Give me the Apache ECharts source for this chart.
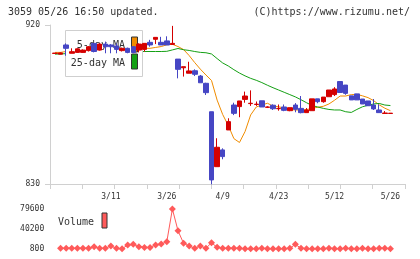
<!DOCTYPE html>
<html><head><meta charset="utf-8">
<script src="https://cdn.jsdelivr.net/npm/echarts/dist/echarts.min.js"></script>
<style>html,body{margin:0;padding:0;background:#fff}#c{width:420px;height:259px}</style>
</head><body><div id="c"></div>
<script>
const dates = ['2/25','2/26','2/27','2/28','3/3','3/4','3/5','3/6','3/7','3/10',
  '3/11','3/12','3/13','3/14','3/17','3/18','3/19','3/21','3/24','3/25',
  '3/26','3/27','3/28','3/31','4/1','4/2','4/3','4/4','4/7','4/8',
  '4/9','4/10','4/11','4/14','4/15','4/16','4/17','4/18','4/21','4/22',
  '4/23','4/24','4/25','4/28','4/30','5/1','5/2','5/7','5/8','5/9',
  '5/12','5/13','5/14','5/15','5/16','5/19','5/20','5/21','5/22','5/23','5/26'];
const tickLabels = ['3/11','3/26','4/9','4/23','5/12','5/26'];
const opens  = [903.9,903.5,908.7,904.0,904.5,904.5,905.5,909.6,905.8,909.2,
  908.7,908.1,905.5,906.8,907.7,905.8,906.2,910.2,911.9,910.2,
  911.0,909.0,900.7,895.8,892.7,894.1,891.1,887.0,870.9,839.8,
  849.3,860.6,874.7,873.8,877.9,875.5,875.0,877.1,873.4,874.6,
  872.6,873.6,871.5,874.7,872.8,870.4,871.5,878.2,876.6,879.4,
  880.6,888.0,886.0,879.9,881.0,878.1,877.0,874.7,871.9,869.9,869.9];
const closes = [904.1,904.2,906.8,904.9,906.5,905.8,907.7,905.0,909.2,907.7,
  907.7,906.2,906.8,904.5,904.5,909.2,909.6,908.7,913.0,908.7,
  908.7,909.6,894.9,896.4,894.0,892.1,887.3,881.7,832.3,850.8,
  845.5,865.3,870.0,877.0,879.8,875.7,875.2,873.6,873.6,872.6,
  872.8,871.7,873.2,872.3,870.4,871.9,878.2,876.6,879.2,883.2,
  883.8,881.8,881.3,877.6,877.6,875.3,874.3,872.5,870.4,870.2,870.1];
const lows   = [903.9,903.4,902.6,904.0,904.3,904.3,905.0,904.5,905.5,904.0,
  904.0,904.0,905.0,904.0,904.0,904.5,904.9,907.7,909.2,908.7,
  908.7,909.0,889.8,890.8,892.7,891.1,887.3,880.4,829.8,839.8,
  844.0,860.6,869.0,867.8,876.0,874.2,874.2,873.6,873.0,871.9,
  871.5,871.2,871.2,870.6,870.0,870.4,871.5,875.7,876.0,879.4,
  879.8,881.8,880.5,877.6,877.6,875.3,874.3,871.9,870.4,869.9,869.9];
const highs  = [904.1,904.5,909.6,906.8,906.8,906.2,908.1,909.6,909.6,910.6,
  909.2,909.6,907.2,907.2,908.1,909.6,909.6,911.6,913.0,913.3,
  913.6,919.5,900.7,896.4,899.2,894.9,891.7,887.3,870.9,855.9,
  850.2,867.2,876.0,877.0,882.3,883.0,876.7,877.1,874.0,875.1,
  875.0,875.0,873.2,875.8,879.8,873.0,878.2,878.2,879.2,883.2,
  884.8,888.0,886.0,879.9,881.0,878.1,877.0,878.1,875.1,871.3,870.1];
const ma5  = [904.5,904.5,905.0,905.0,905.2,905.6,906.0,906.3,906.8,907.3,
  907.8,907.8,907.5,907.0,906.3,906.5,906.8,906.8,907.3,907.8,
  908.8,909.1,907.8,906.1,902.7,898.7,895.0,891.7,888.6,877.5,
  869.3,863.1,855.7,853.5,859.7,869.1,873.6,874.7,875.7,874.1,
  873.7,873.0,872.2,871.9,871.9,872.1,872.9,873.4,874.0,875.3,
  877.4,879.8,879.8,880.6,880.7,879.9,878.9,877.2,874.8,872.9,871.5];
const ma25 = [903.5,903.6,903.8,904.0,904.1,904.2,904.3,904.4,904.5,904.6,
  904.7,904.8,904.9,905.0,905.0,905.0,905.0,905.0,905.0,905.0,
  905.1,905.9,906.7,906.0,905.6,905.0,904.5,904.3,903.6,901.0,
  898.5,896.8,894.7,892.8,891.2,889.8,888.7,887.4,885.9,884.5,
  883.2,881.9,880.6,879.3,877.7,876.0,874.4,873.6,872.8,872.2,
  871.9,871.9,870.9,870.5,872.2,873.7,874.6,875.3,875.6,874.7,874.4];
const volume = [null,2200,2200,2200,2200,2200,2200,5300,2200,2200,
  6700,2200,1200,8700,10000,5300,4000,4000,8700,10600,
  15200,79600,36900,12000,6700,2200,6700,2200,13200,4100,
  2200,2200,2200,2200,1200,1200,1200,2200,1200,1200,
  1200,1200,2200,10000,2200,1200,1200,1500,1500,2200,
  1500,1500,2200,1500,1500,2200,1500,1500,2200,2200,1500];
const priceTicks = [830, 920];
const volumeTicks = [800, 40200, 79600];

const RED = '#d40000', BLUE = '#4646c4', ORANGE = '#f08c00', GREEN = '#14a014', VOLC = '#ff5a5a';
const AX = '#d0d0d0', TXT = '#333', FONT = '"DejaVu Sans Mono", monospace';
const cats = dates.concat(['', '']);
const plotTop = 25, plotH = 159, cLeft = 52.2, cW = 352.2;

const chart = echarts.init(document.getElementById('c'), null, {renderer: 'canvas'});
chart.setOption({
  animation: false,
  backgroundColor: '#fff',
  grid: [
    {left: 50, top: plotTop, width: 355, height: plotH},
    {left: cLeft, top: plotTop, width: cW, height: plotH},
    {left: cLeft, top: 209, width: cW, height: 40}
  ],
  xAxis: [
    {gridIndex: 0, type: 'value', min: 0, max: 11, interval: 1,
      axisLine: {show: true, lineStyle: {color: AX, width: 1}},
      axisTick: {show: true, length: 5, lineStyle: {color: AX}},
      axisLabel: {show: false}, splitLine: {show: false}},
    {gridIndex: 1, type: 'category', data: cats, boundaryGap: true,
      axisLine: {show: false}, axisTick: {show: false}, splitLine: {show: false},
      axisLabel: {show: true, interval: (i, v) => tickLabels.includes(v), margin: 9,
        fontSize: 8, fontFamily: FONT, color: TXT}},
    {gridIndex: 2, type: 'category', data: cats, boundaryGap: true,
      axisLine: {show: false}, axisTick: {show: false}, axisLabel: {show: false}, splitLine: {show: false}}
  ],
  yAxis: [
    {gridIndex: 0, type: 'value', min: priceTicks[0], max: priceTicks[1], interval: priceTicks[1] - priceTicks[0],
      axisLine: {show: true, lineStyle: {color: AX, width: 1}},
      axisTick: {show: true, length: 5, lineStyle: {color: AX}},
      axisLabel: {fontSize: 8, fontFamily: FONT, color: TXT, margin: 10, formatter: v => String(v)},
      splitLine: {show: false}},
    {gridIndex: 1, type: 'value', min: priceTicks[0], max: priceTicks[1], show: false, splitLine: {show: false}},
    {gridIndex: 2, type: 'value', min: volumeTicks[0], max: volumeTicks[2], interval: volumeTicks[1] - volumeTicks[0],
      axisLine: {show: false}, axisTick: {show: false}, splitLine: {show: false},
      axisLabel: {fontSize: 8, fontFamily: FONT, color: TXT, margin: 8, formatter: v => String(v)}}
  ],
  series: [
    {name: '5-day MA', type: 'line', xAxisIndex: 1, yAxisIndex: 1, data: ma5, symbol: 'none', z: 1,
      lineStyle: {color: ORANGE, width: 1}},
    {name: '25-day MA', type: 'line', xAxisIndex: 1, yAxisIndex: 1, data: ma25, symbol: 'none', z: 1,
      lineStyle: {color: GREEN, width: 1}},
    {name: 'Price', type: 'candlestick', xAxisIndex: 1, yAxisIndex: 1, barWidth: 5, z: 5,
      data: opens.map((o, i) => [o, closes[i], lows[i], highs[i]]),
      itemStyle: {color: RED, color0: BLUE, borderColor: RED, borderColor0: BLUE, borderWidth: 1}},
    {name: 'Volume', type: 'line', xAxisIndex: 2, yAxisIndex: 2, data: volume,
      symbol: 'diamond', symbolSize: 7, showSymbol: true, showAllSymbol: true,
      itemStyle: {color: VOLC, borderWidth: 0}, lineStyle: {color: VOLC, width: 1}}
  ],
  graphic: [
    {type: 'text', left: 8, top: 7, z: 10, style: {text: '3059 05/26 16:50 updated.', font: '10px ' + FONT, fill: TXT}},
    {type: 'text', right: 10, top: 7, z: 10, style: {text: '(C)https://www.rizumu.net/', font: '10px ' + FONT, fill: TXT}},
    {type: 'rect', z: 3, shape: {x: 65.5, y: 30.5, width: 77, height: 46}, style: {fill: '#fff', stroke: '#cfcfcf', lineWidth: 1}},
    {type: 'text', z: 3, x: 125, y: 45, style: {text: '5-day MA', font: '10px ' + FONT, fill: TXT, align: 'right', verticalAlign: 'middle'}},
    {type: 'text', z: 3, x: 125, y: 63, style: {text: '25-day MA', font: '10px ' + FONT, fill: TXT, align: 'right', verticalAlign: 'middle'}},
    {type: 'rect', z: 3, shape: {x: 131.5, y: 37, width: 6, height: 15}, style: {fill: ORANGE, stroke: '#333', lineWidth: 1}},
    {type: 'rect', z: 3, shape: {x: 131.5, y: 54, width: 6, height: 15}, style: {fill: GREEN, stroke: '#333', lineWidth: 1}},
    {type: 'text', z: 10, x: 58, y: 222, style: {text: 'Volume', font: '10px ' + FONT, fill: TXT, verticalAlign: 'middle'}},
    {type: 'rect', z: 10, shape: {x: 102, y: 213, width: 5, height: 15}, style: {fill: VOLC, stroke: '#333', lineWidth: 1}}
  ]
});
</script>
</body></html>
